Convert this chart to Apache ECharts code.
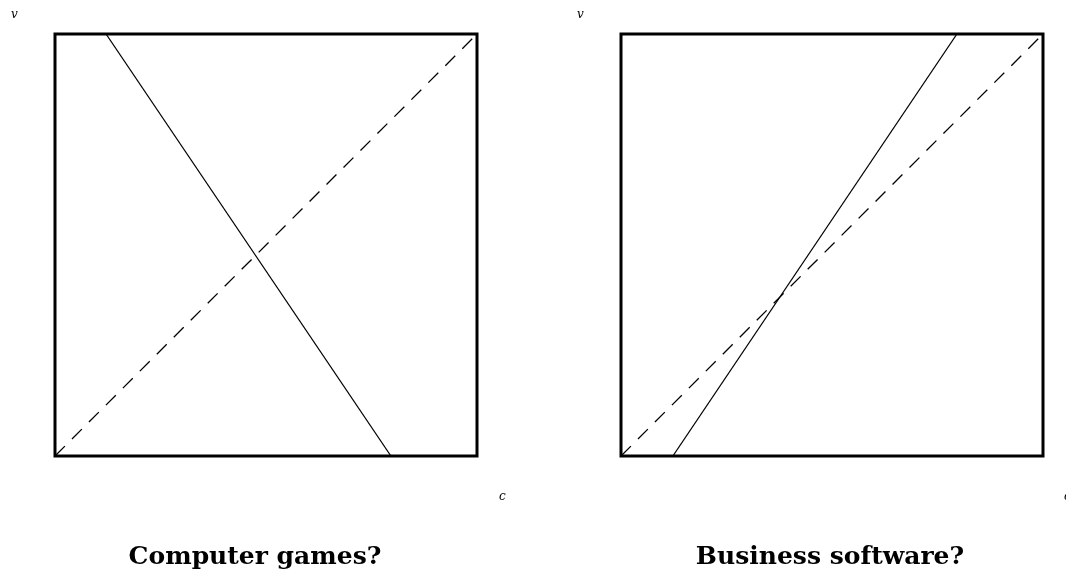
<!DOCTYPE html>
<html>
<head>
<meta charset="utf-8">
<script src="https://cdn.jsdelivr.net/npm/echarts@6/dist/echarts.min.js"></script>
<style>
  html, body { margin: 0; padding: 0; background: #fff; }
  #chart { width: 1066px; height: 576px; }
</style>
</head>
<body>
<div id="chart"></div>
<script>
// pannelli: titoli e dati delle rette (c, v) in [0,1]
var panelTitles = ['Computer games?', 'Business software?'];
var diagonal = [[0, 0], [1, 1]];
var gamesLine = [[0.121, 1], [0.796, 0]];
var softwareLine = [[0.123, 0], [0.796, 1]];

var chart = echarts.init(document.getElementById('chart'));

var serif = '"DejaVu Serif", "Liberation Serif", serif';
var gridLefts = [55, 621];
var small = { fontFamily: serif, fontStyle: 'italic', fontWeight: 'normal', fontSize: 12, color: '#000' };
var big = { fontFamily: serif, fontWeight: 'bold', fontSize: 25, color: '#000' };

var option = {
  animation: false,
  backgroundColor: '#fff',
  title: [
    { text: panelTitles[0], left: 250, top: 540, textAlign: 'center', textStyle: big },
    { text: panelTitles[1], left: 825, top: 540, textAlign: 'center', textStyle: big },
    { text: 'v', left: 6, top: 4, textStyle: small },
    { text: 'v', left: 572, top: 4, textStyle: small },
    { text: 'c', left: 494, top: 486, textStyle: small },
    { text: 'c', left: 1059, top: 486, textStyle: small }
  ],
  grid: gridLefts.map(function (l) {
    return { left: l, top: 34, width: 422, height: 422, show: true,
      borderColor: '#000', borderWidth: 3, backgroundColor: 'transparent' };
  }),
  xAxis: [0, 1].map(function (i) {
    return { type: 'value', gridIndex: i, min: 0, max: 1,
      axisLine: { show: false }, axisTick: { show: false },
      axisLabel: { show: false }, splitLine: { show: false } };
  }),
  yAxis: [0, 1].map(function (i) {
    return { type: 'value', gridIndex: i, min: 0, max: 1,
      axisLine: { show: false }, axisTick: { show: false },
      axisLabel: { show: false }, splitLine: { show: false } };
  }),
  series: [
    { type: 'line', xAxisIndex: 0, yAxisIndex: 0, data: diagonal, showSymbol: false,
      lineStyle: { color: '#000', width: 1.3, type: [14, 10] } },
    { type: 'line', xAxisIndex: 0, yAxisIndex: 0, data: gamesLine, showSymbol: false,
      lineStyle: { color: '#000', width: 1.3 } },
    { type: 'line', xAxisIndex: 1, yAxisIndex: 1, data: diagonal, showSymbol: false,
      lineStyle: { color: '#000', width: 1.3, type: [14, 10] } },
    { type: 'line', xAxisIndex: 1, yAxisIndex: 1, data: softwareLine, showSymbol: false,
      lineStyle: { color: '#000', width: 1.3 } }
  ]
};

chart.setOption(option);
</script>
</body>
</html>
